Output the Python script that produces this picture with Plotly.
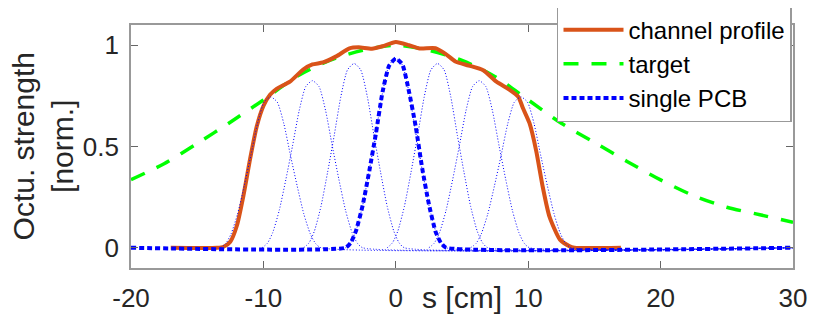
import plotly.graph_objects as go

# target octupole profile (green dashed)
target_s = [-20, -17.5, -15, -12.5, -10, -7.5, -5, -2.5, 0, 2.5, 5, 7.5, 10,
            12.5, 15, 17.5, 20, 22.5, 25, 27.5, 30]
target_y = [0.336, 0.415, 0.515, 0.62, 0.73, 0.845, 0.925, 0.975, 1.0, 0.975,
            0.925, 0.845, 0.73, 0.615, 0.52, 0.425, 0.335, 0.257, 0.20, 0.163, 0.126]

# summed channel profile (orange)
channel_s = [-17, -13.5, -13, -12.5, -12, -11.5, -11, -10.5, -10, -9.5, -9, -8,
             -7, -6.3, -5.5, -4.5, -3.5, -2.8, -1.8, -1, 0, 1, 1.8, 3, 3.8, 4.5,
             5.5, 6.6, 7.6, 8.6, 9.25, 9.6, 10.1, 10.6, 11.1, 11.6, 12.4, 13.1,
             13.5, 17]
channel_y = [0, 0, 0.005, 0.03, 0.11, 0.26, 0.44, 0.60, 0.70, 0.755, 0.785, 0.82,
             0.88, 0.905, 0.915, 0.945, 0.985, 0.99, 0.983, 0.995, 1.016, 1.0,
             0.984, 0.985, 0.955, 0.92, 0.90, 0.877, 0.82, 0.78, 0.746, 0.69,
             0.615, 0.48, 0.30, 0.155, 0.04, 0.008, 0, 0]

# single PCB (thick blue dotted)
single_s = [-20, -3.8, -3.4, -3, -2.5, -2, -1.5, -1, -0.5, 0, 0.5, 1, 1.5, 2,
            2.5, 3, 3.4, 3.8, 30]
single_y = [0, 0, 0.025, 0.085, 0.21, 0.38, 0.565, 0.77, 0.9, 0.935, 0.905,
            0.77, 0.6, 0.39, 0.215, 0.08, 0.025, 0, 0]

# all PCBs (thin blue dotted): shape, centres and peaks
shape_ds = [-3.8, -3.4, -3, -2.5, -2, -1.5, -1, -0.5, 0, 0.5, 1, 1.5, 2, 2.5, 3, 3.4, 3.8]
shape_y = [0, 0.027, 0.09, 0.225, 0.41, 0.61, 0.82, 0.965, 1, 0.965, 0.82, 0.61,
           0.41, 0.225, 0.09, 0.027, 0]
pcb_centres = [-9.45, -6.3, -3.15, 0, 3.15, 6.3, 9.45]
pcb_peaks = [0.745, 0.825, 0.91, 0.935, 0.91, 0.825, 0.745]

x_ticks = [-20, -10, 0, 10, 20, 30]
x_ticklabels = ["-20", "-10", "0", "10", "20", "30"]
y_ticks = [0, 0.5, 1]
y_ticklabels = ["0", "0.5", "1"]

x_range = [-20, 30]
y_range = [-0.1, 1.1]
FONT = "Liberation Sans, Arial, sans-serif"

fig = go.Figure()

fig.add_trace(go.Scatter(x=target_s, y=target_y, mode="lines", name="target",
                         line=dict(color="#00ff00", width=3.5, dash="15px,13px",
                                   shape="spline", smoothing=0.8),
                         legendrank=2))
fig.add_trace(go.Scatter(x=channel_s, y=channel_y, mode="lines", name="channel profile",
                         line=dict(color="#d95319", width=4, shape="spline", smoothing=0.6),
                         legendrank=1))

for c, p in zip(pcb_centres, pcb_peaks):
    xs = [c + d for d in shape_ds] + [x_range[1]]
    ys = [p * v for v in shape_y] + [0]
    fig.add_trace(go.Scatter(x=xs, y=ys, mode="lines", showlegend=False,
                             line=dict(color="#0000ff", width=1, dash="1px,2px",
                                       shape="spline", smoothing=0.6),
                             hoverinfo="skip"))

fig.add_trace(go.Scatter(x=single_s, y=single_y, mode="lines", name="single PCB",
                         line=dict(color="#0000ff", width=4, dash="5px,3px",
                                   shape="spline", smoothing=0.5),
                         legendrank=3))

axis_common = dict(showline=True, linecolor="#999999", linewidth=1.6, mirror="ticks",
                   ticks="inside", ticklen=7, tickcolor="#666666", tickwidth=1,
                   showgrid=False, zeroline=False,
                   tickfont=dict(family=FONT, size=26, color="#262626"))

fig.update_xaxes(range=x_range, tickvals=x_ticks, ticktext=x_ticklabels,
                 ticklabelstandoff=6, **axis_common)
fig.update_yaxes(range=y_range, tickvals=y_ticks, ticktext=y_ticklabels,
                 ticklabelstandoff=5, **axis_common)

fig.add_annotation(text="s [cm]", x=5, y=-0.12, xref="x", yref="paper",
                   xanchor="center", yanchor="middle", showarrow=False,
                   font=dict(family=FONT, size=30, color="#262626"))
fig.add_annotation(text="Octu. strength<br>[norm.]", x=-0.133, y=0.5,
                   xref="paper", yref="paper", textangle=-90,
                   xanchor="center", yanchor="middle", showarrow=False,
                   font=dict(family=FONT, size=30, color="#262626"))

# page body adds an 8px offset, so the figure is 8px smaller each way
fig.update_layout(
    width=825, height=319,
    margin=dict(l=123, r=40, t=17, b=59, autoexpand=False),
    plot_bgcolor="white", paper_bgcolor="white",
    legend=dict(x=0.6435, y=1.078, xanchor="left", yanchor="top",
                bgcolor="white", bordercolor="#999999", borderwidth=1.5,
                font=dict(family=FONT, size=24, color="#000000"),
                itemwidth=60, tracegroupgap=0),
)

fig.write_html("out.html")
